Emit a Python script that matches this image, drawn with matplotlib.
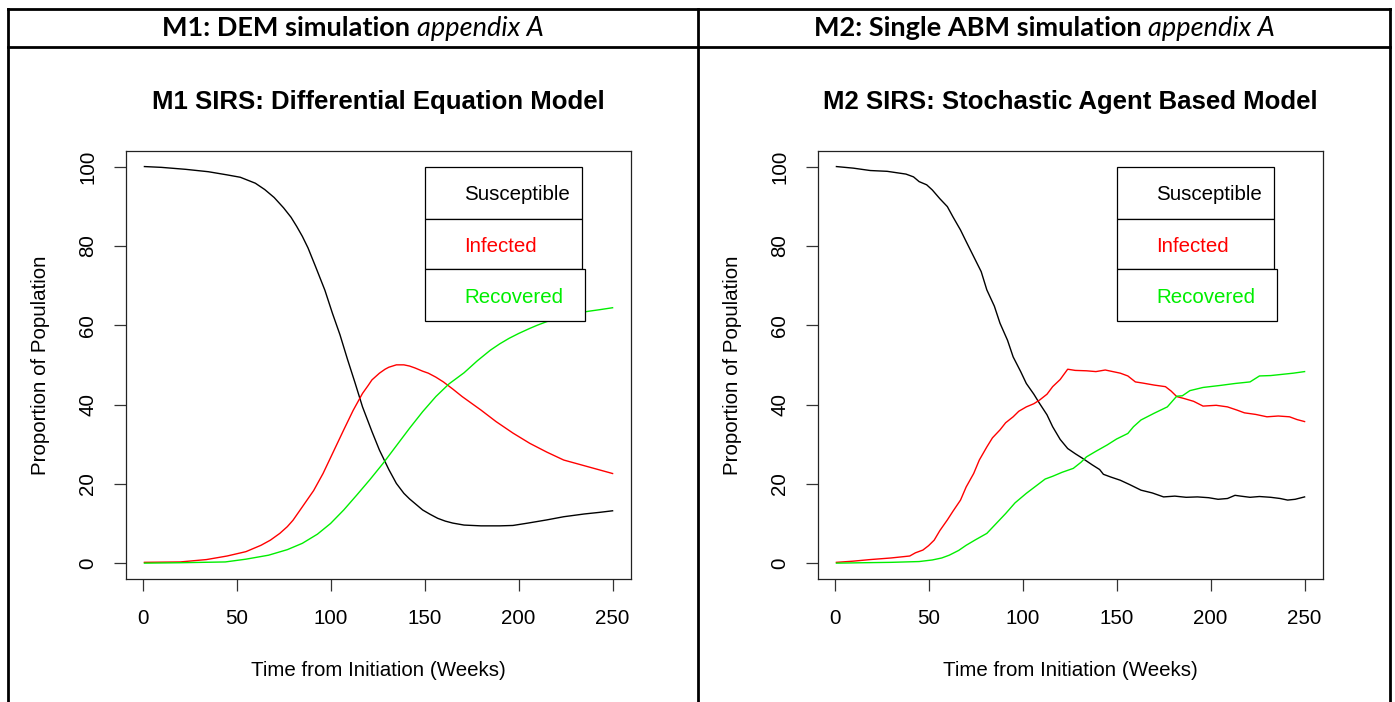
import matplotlib
matplotlib.use("Agg")
import matplotlib.pyplot as plt
from matplotlib.patches import Rectangle
from matplotlib.lines import Line2D

# ---------------- data ----------------
legend_labels = ["Susceptible", "Infected", "Recovered"]
series_colors = ["black", "#ff0000", "#00ee00"]
x_ticks = [0, 50, 100, 150, 200, 250]
y_ticks = [0, 20, 40, 60, 80, 100]

header_bold = ["M1: DEM simulation ", "M2: Single ABM simulation "]
header_italic = ["appendix A", "appendix A"]
plot_titles = ["M1 SIRS: Differential Equation Model",
               "M2 SIRS: Stochastic Agent Based Model"]
x_label = "Time from Initiation (Weeks)"
y_label = "Proportion of Population"

# M1 (deterministic)
m1_s_x = [1, 10, 23, 35, 45, 52, 60, 65, 70, 75, 79, 82, 85, 88, 92, 97, 101, 105, 109, 113,
          117, 122, 126, 131, 135, 139, 142, 146, 149, 153, 157, 161, 165, 171, 180, 190, 197,
          205, 215, 224, 235, 243, 250]
m1_s_y = [100, 99.8, 99.3, 98.7, 97.9, 97.3, 95.8, 94.2, 92.2, 89.6, 87.2, 84.9, 82.4, 79.5,
          74.8, 68.8, 63, 57.6, 51.4, 45.5, 39.4, 33.2, 28.5, 23.6, 20.1, 17.6, 16.2, 14.6,
          13.4, 12.3, 11.3, 10.6, 10.1, 9.6, 9.4, 9.4, 9.5, 10.1, 10.9, 11.7, 12.4, 12.8, 13.2]
m1_i_x = [1, 20, 34, 45, 55, 63, 68, 73, 77, 80, 85, 91, 96, 101, 107, 112, 117, 120, 122, 126,
          129, 131, 135, 139, 142, 145, 149, 152, 156, 160, 165, 170, 175, 180, 188, 197, 206,
          215, 224, 237, 250]
m1_i_y = [0.2, 0.3, 0.9, 1.8, 2.9, 4.5, 5.8, 7.5, 9.2, 10.8, 14.2, 18.3, 22.6, 27.6, 33.6,
          38.5, 42.8, 44.8, 46.2, 47.9, 48.9, 49.4, 50, 50, 49.7, 49.2, 48.4, 47.9, 46.9, 45.7,
          43.9, 42, 40.3, 38.6, 35.7, 32.8, 30.2, 28, 26, 24.3, 22.6]
m1_r_x = [1, 20, 44, 55, 67, 77, 85, 93, 100, 107, 114, 121, 128, 135, 142, 149, 156, 163,
          171, 178, 185, 190, 195, 200, 206, 210, 215, 220, 224, 230, 237, 243, 250]
m1_r_y = [0.0, 0.1, 0.3, 1.0, 2.0, 3.4, 5.0, 7.3, 10.0, 13.4, 17.2, 21.1, 25.2, 29.6, 34.0,
          38.2, 42.0, 45.2, 48.0, 51.0, 53.7, 55.3, 56.7, 57.9, 59.2, 60.0, 60.9, 61.6, 62.2,
          62.9, 63.5, 63.9, 64.4]

# M2 (stochastic agent based)
m2_s_x = [1, 10, 19, 28, 38, 42, 45, 49, 52, 56, 60, 63, 67, 70, 74, 78, 81, 85, 88, 92, 95,
          99, 102, 106, 109, 113, 116, 120, 124, 128, 132, 137, 141, 143, 147, 152, 157, 163,
          169, 175, 181, 187, 193, 199, 204, 209, 213, 216, 221, 226, 232, 237, 241, 245, 250]
m2_s_y = [100, 99.6, 99, 98.8, 98.1, 97.4, 96.2, 95.4, 94.1, 91.9, 89.9, 87.3, 84, 81.1, 77.3,
          73.5, 68.9, 64.8, 60.5, 56.2, 52, 48.3, 45.3, 42.6, 40.3, 37.4, 34.4, 31.2, 28.9,
          27.6, 26.4, 24.8, 23.6, 22.4, 21.7, 20.9, 19.8, 18.4, 17.7, 16.7, 16.9, 16.6, 16.7,
          16.5, 16.1, 16.3, 17.1, 16.9, 16.6, 16.8, 16.6, 16.3, 15.9, 16.1, 16.7]
m2_i_x = [1, 10, 19, 30, 40, 43, 47, 50, 53, 56, 60, 63, 67, 70, 74, 77, 81, 84, 88, 91, 95,
          98, 102, 106, 109, 113, 116, 120, 124, 128, 134, 139, 144, 148, 152, 156, 160, 164,
          170, 176, 179, 182, 186, 191, 196, 203, 209, 214, 218, 224, 230, 236, 242, 246, 250]
m2_i_y = [0.2, 0.5, 0.9, 1.3, 1.8, 2.6, 3.3, 4.4, 5.8, 8.2, 10.9, 13.1, 15.9, 19.2, 22.6, 26,
          29.3, 31.6, 33.6, 35.4, 36.9, 38.3, 39.4, 40.2, 41.1, 42.6, 44.5, 46.3, 48.9, 48.6,
          48.5, 48.3, 48.7, 48.3, 47.9, 47.2, 45.7, 45.4, 44.9, 44.5, 43.4, 42, 41.5, 40.8,
          39.6, 39.8, 39.4, 38.6, 37.9, 37.5, 36.9, 37.1, 36.9, 36.2, 35.7]
m2_r_x = [1, 15, 30, 45, 52, 57, 61, 66, 70, 75, 81, 86, 91, 96, 102, 107, 112, 116, 121, 127,
          131, 134, 139, 145, 150, 156, 159, 163, 170, 177, 182, 185, 189, 196, 205, 213, 221,
          226, 232, 238, 244, 250]
m2_r_y = [0.0, 0.1, 0.2, 0.4, 0.8, 1.3, 2.0, 3.2, 4.5, 5.9, 7.5, 10.0, 12.5, 15.2, 17.6, 19.4,
          21.2, 21.9, 22.9, 23.9, 25.4, 26.8, 28.2, 29.8, 31.3, 32.7, 34.4, 36.1, 37.8, 39.4,
          42.1, 42.2, 43.5, 44.3, 44.8, 45.3, 45.7, 47.2, 47.3, 47.6, 47.9, 48.3]

panels = [
    [(m1_s_x, m1_s_y), (m1_i_x, m1_i_y), (m1_r_x, m1_r_y)],
    [(m2_s_x, m2_s_y), (m2_i_x, m2_i_y), (m2_r_x, m2_r_y)],
]

# ---------------- layout ----------------
W, H = 1395, 702
fig = plt.figure(figsize=(W / 100, H / 100), dpi=100)
plt.rcParams['font.family'] = ['Liberation Sans', 'DejaVu Sans']

def fx(px):
    return px / W

def fy(py):
    return 1 - py / H

# table border lines (pixel coords)
tbl_lw = 2.0
for (x0, y0, x1, y1) in [(7.5, 8.5, 1389.5, 8.5), (7.5, 46.5, 1389.5, 46.5),
                         (7.5, 8.5, 7.5, 702), (698, 8.5, 698, 702), (1389.5, 8.5, 1389.5, 702)]:
    fig.add_artist(Line2D([fx(x0), fx(x1)], [fy(y0), fy(y1)], color="black", lw=tbl_lw,
                          transform=fig.transFigure, solid_capstyle="projecting"))

frame_left = [125.7, 817.7]
frame_w = 505.6
frame_top, frame_bot = 150.7, 579.0
cell_centers = [353, 1044]

fs = 14.8
title_fs = 18.5
renderer = fig.canvas.get_renderer()

for k in range(2):
    ax = fig.add_axes([fx(frame_left[k]), fy(frame_bot), frame_w / W, (frame_bot - frame_top) / H])
    for (xs, ys), c in zip(panels[k], series_colors):
        ax.plot(xs, ys, color=c, lw=1.0)
    ax.set_xlim(1 - 0.04 * 249, 250 + 0.04 * 249)
    ax.set_ylim(-4, 104)
    ax.set_xticks(x_ticks)
    ax.set_yticks(y_ticks)
    ax.set_xticklabels([str(v) for v in x_ticks], fontsize=fs)
    ax.set_yticklabels([str(v) for v in y_ticks], fontsize=fs, rotation=90, va="center")
    ax.tick_params(axis="both", length=8.6, width=0.9, color="#333333", direction="out")
    ax.tick_params(axis="x", pad=13)
    ax.tick_params(axis="y", pad=12)
    for sp in ax.spines.values():
        sp.set_linewidth(0.9)
        sp.set_color("#222222")
    ax.set_xlabel(x_label, fontsize=fs, va="center")
    ax.xaxis.set_label_coords(0.5, -0.2148)
    ax.set_ylabel(y_label, fontsize=fs, va="center")
    ax.yaxis.set_label_coords(-0.1695, 0.5)
    ax.text(0.5, 1.1137, plot_titles[k], transform=ax.transAxes, ha="center", va="center",
            fontsize=title_fs, fontweight="bold")

    # legend boxes (three separate boxes like the original)
    boxes = [(0.592, 0.8412, 0.9031, 0.9627), (0.592, 0.7238, 0.9031, 0.8412),
             (0.592, 0.6024, 0.9089, 0.7238)]
    text_y = [0.8966, 0.7752, 0.6568]
    for (x0, y0, x1, y1), lab, c, ty in zip(boxes, legend_labels, series_colors, text_y):
        ax.add_patch(Rectangle((x0, y0), x1 - x0, y1 - y0, transform=ax.transAxes,
                               fill=True, facecolor="white", edgecolor="black", lw=0.9, zorder=5))
        ax.text(0.6691, ty, lab, transform=ax.transAxes, color=c, fontsize=fs,
                ha="left", va="center", zorder=6)

    # header text: bold part + italic part, centred in the cell
    hfs = 19.5
    t1 = fig.text(0, fy(28.5), header_bold[k], fontsize=hfs, fontweight="bold",
                  family=["Lato", "DejaVu Sans"], ha="left", va="center")
    t2 = fig.text(0, fy(28.5), header_italic[k], fontsize=hfs, style="italic",
                  family=["Lato", "DejaVu Sans"], ha="left", va="center")
    w1 = t1.get_window_extent(renderer).width
    w2 = t2.get_window_extent(renderer).width
    start = cell_centers[k] - (w1 + w2) / 2
    t1.set_x(fx(start))
    t2.set_x(fx(start + w1))

fig.savefig("out.png", dpi=100, facecolor="white")
